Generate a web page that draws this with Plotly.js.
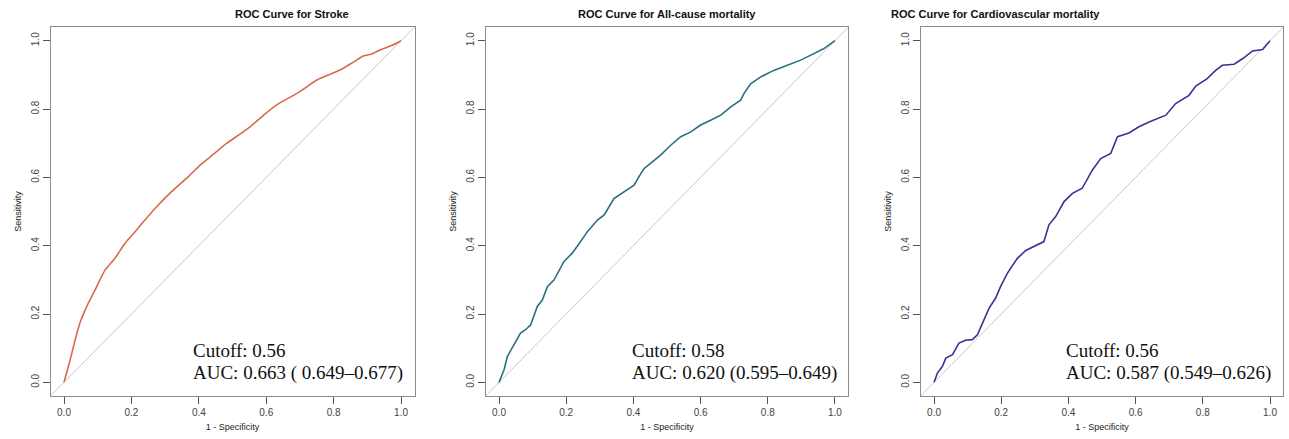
<!DOCTYPE html>
<html>
<head>
<meta charset="utf-8">
<script src="https://cdn.plot.ly/plotly-3.0.1.min.js"></script>
<style>html,body{margin:0;padding:0;background:#fff;}#chart{width:1289px;height:439px;}</style>
</head>
<body>
<div id="chart"></div>
<script>
// ---- Data ----
const panelTitles = ["ROC Curve for Stroke", "ROC Curve for All-cause mortality", "ROC Curve for Cardiovascular mortality"];
const cutoffLabels = ["Cutoff: 0.56", "Cutoff: 0.58", "Cutoff: 0.56"];
const aucLabels = ["AUC: 0.663 ( 0.649\u20130.677)", "AUC: 0.620 (0.595\u20130.649)", "AUC: 0.587 (0.549\u20130.626)"];
const tickVals = [0, 0.2, 0.4, 0.6, 0.8, 1.0];
const tickLabels = ["0.0", "0.2", "0.4", "0.6", "0.8", "1.0"];

const strokeFPR  = [0, 0.018, 0.033, 0.047, 0.067, 0.092, 0.122, 0.151, 0.181, 0.211, 0.24, 0.27, 0.319, 0.369, 0.404, 0.44, 0.483, 0.52, 0.552, 0.59, 0.631, 0.70, 0.75, 0.819, 0.855, 0.888, 0.915, 0.938, 0.97, 1];
const strokeTPR  = [0, 0.065, 0.124, 0.173, 0.221, 0.27, 0.329, 0.363, 0.407, 0.441, 0.475, 0.509, 0.558, 0.602, 0.636, 0.665, 0.70, 0.725, 0.748, 0.78, 0.812, 0.851, 0.885, 0.914, 0.935, 0.955, 0.962, 0.973, 0.985, 1];

const allcauseFPR = [0, 0.015, 0.025, 0.045, 0.064, 0.079, 0.094, 0.114, 0.129, 0.144, 0.164, 0.193, 0.218, 0.243, 0.263, 0.293, 0.313, 0.342, 0.372, 0.402, 0.422, 0.432, 0.451, 0.481, 0.511, 0.541, 0.571, 0.6, 0.63, 0.66, 0.69, 0.719, 0.729, 0.749, 0.779, 0.818, 0.858, 0.898, 0.937, 0.967, 1];
const allcauseTPR = [0, 0.037, 0.076, 0.11, 0.144, 0.154, 0.168, 0.222, 0.241, 0.28, 0.3, 0.353, 0.378, 0.412, 0.441, 0.475, 0.49, 0.538, 0.558, 0.577, 0.611, 0.626, 0.641, 0.665, 0.694, 0.719, 0.733, 0.753, 0.767, 0.782, 0.806, 0.826, 0.845, 0.874, 0.894, 0.913, 0.928, 0.943, 0.962, 0.977, 1];

const cvdFPR = [0, 0.01, 0.025, 0.035, 0.055, 0.074, 0.094, 0.114, 0.129, 0.144, 0.164, 0.183, 0.198, 0.218, 0.248, 0.273, 0.298, 0.327, 0.342, 0.362, 0.387, 0.412, 0.441, 0.451, 0.471, 0.496, 0.526, 0.546, 0.58, 0.61, 0.64, 0.69, 0.719, 0.759, 0.779, 0.813, 0.838, 0.858, 0.893, 0.918, 0.948, 0.978, 1];
const cvdTPR = [0, 0.027, 0.047, 0.071, 0.081, 0.115, 0.123, 0.125, 0.139, 0.173, 0.217, 0.246, 0.28, 0.319, 0.363, 0.386, 0.397, 0.412, 0.461, 0.485, 0.529, 0.553, 0.568, 0.587, 0.621, 0.655, 0.67, 0.719, 0.73, 0.748, 0.762, 0.782, 0.816, 0.84, 0.867, 0.889, 0.913, 0.928, 0.931, 0.947, 0.97, 0.974, 1];

const curveX = [strokeFPR, allcauseFPR, cvdFPR];
const curveY = [strokeTPR, allcauseTPR, cvdTPR];
const curveColors = ["#D9694E", "#2B6F80", "#4A2A9A"];
const curveShapes = ["spline", "linear", "linear"];

// ---- Layout ----
const domains = [[0.0392, 0.3216], [0.3767, 0.6582], [0.7142, 0.9957]];
const textX = [0.377, 0.39, 0.387];
const traces = [];
const layout = {
  width: 1289, height: 439,
  margin: {l: 0, r: 0, t: 27, b: 43},
  paper_bgcolor: "#fff", plot_bgcolor: "#fff",
  showlegend: false,
  annotations: [], shapes: []
};
const tickFont = {family: "Liberation Sans, Arial, sans-serif", size: 10, color: "#444"};
const titleFont = {family: "Liberation Sans, Arial, sans-serif", size: 9, color: "#222"};

for (let i = 0; i < 3; i++) {
  const s = i === 0 ? "" : String(i + 1);
  traces.push({
    x: curveX[i], y: curveY[i], xaxis: "x" + s, yaxis: "y" + s,
    type: "scatter", mode: "lines",
    line: {color: curveColors[i], width: 1.6, shape: curveShapes[i], smoothing: 0.6},
    hoverinfo: "skip"
  });
  const axCommon = {
    range: [-0.04, 1.04], tickvals: tickVals, ticktext: tickLabels,
    showgrid: false, zeroline: false, showline: true, mirror: true,
    linecolor: "#8c8c8c", linewidth: 1, ticks: "outside", ticklen: 7,
    tickcolor: "#555", tickwidth: 1, tickfont: tickFont, fixedrange: true
  };
  layout["xaxis" + s] = Object.assign({}, axCommon, {
    domain: domains[i], anchor: "y" + s,
    title: {text: "1 - Specificity", font: titleFont, standoff: 6}
  });
  layout["yaxis" + s] = Object.assign({}, axCommon, {
    domain: [0, 1], anchor: "x" + s, tickangle: -90,
    title: {text: "Sensitivity", font: titleFont, standoff: 6}
  });
  layout.shapes.push({
    type: "line", xref: "x" + s + " domain", yref: "y" + s + " domain",
    x0: 0, y0: 0, x1: 1, y1: 1, line: {color: "#c8c8c8", width: 1}, layer: "below"
  });
  layout.annotations.push({
    text: "<b>" + panelTitles[i] + "</b>", xref: "paper", yref: "paper",
    x: (domains[i][0] + domains[i][1]) / 2, y: 1, yshift: 13, yanchor: "middle",
    showarrow: false, font: {family: "Liberation Sans, Arial, sans-serif", size: 11, color: "#111"}
  });
  layout.annotations.push({
    text: cutoffLabels[i], xref: "x" + s, yref: "y" + s,
    x: textX[i], y: 0.094, xanchor: "left", yanchor: "middle",
    showarrow: false, font: {family: "Liberation Serif, Times New Roman, serif", size: 19, color: "#111"}
  });
  layout.annotations.push({
    text: aucLabels[i], xref: "x" + s, yref: "y" + s,
    x: textX[i], y: 0.026, xanchor: "left", yanchor: "middle",
    showarrow: false, font: {family: "Liberation Serif, Times New Roman, serif", size: 19, color: "#111"}
  });
}

Plotly.newPlot("chart", traces, layout, {displayModeBar: false, staticPlot: true});
</script>
</body>
</html>
